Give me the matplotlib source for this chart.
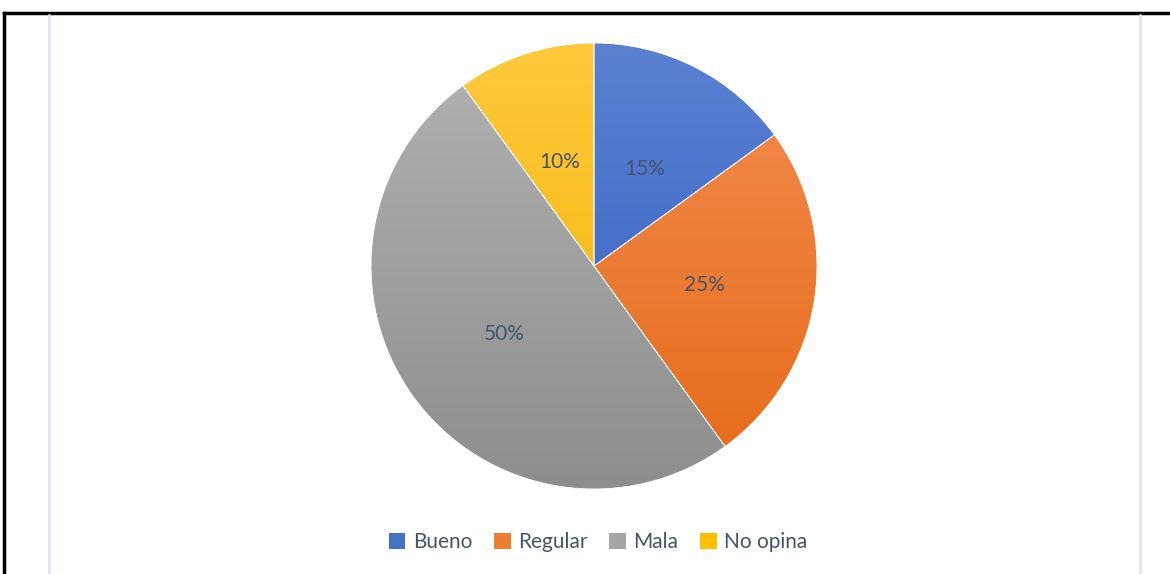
import numpy as np
import matplotlib
matplotlib.use("Agg")
import matplotlib.pyplot as plt
from matplotlib.colors import LinearSegmentedColormap
from matplotlib.patches import Rectangle
from matplotlib.lines import Line2D

categories = ["Bueno", "Regular", "Mala", "No opina"]
values = [15, 25, 50, 10]
labels = ["15%", "25%", "50%", "10%"]
top_colors = ["#5b80d2", "#f28d52", "#b2b2b2", "#ffc93c"]
bottom_colors = ["#2e5fbf", "#e66a17", "#8e8e8e", "#f0b400"]
legend_colors = ["#4472c4", "#ed7d31", "#a5a5a5", "#ffc000"]

plt.rcParams['font.family'] = ['Lato', 'DejaVu Sans']
text_color = "#44546a"

fig = plt.figure(figsize=(11.70, 5.74), dpi=100)
fig.patch.set_facecolor("white")

# frame lines
fig.add_artist(Line2D([4/1170, 4/1170], [0, 1 - 13/574], color="black", lw=2.5, transform=fig.transFigure))
fig.add_artist(Line2D([4/1170, 1], [1 - 13/574, 1 - 13/574], color="black", lw=2.5, transform=fig.transFigure))
for xp in [48.5, 1139.5]:
    fig.add_artist(Line2D([xp/1170, xp/1170], [0, 1 - 15/574], color="#e1e5eb", lw=1.8, transform=fig.transFigure))

cx, cy, r = 594, 308, 223
ax = fig.add_axes([(cx - r)/1170, (cy - r)/574, 2*r/1170, 2*r/574])
wedges, texts = ax.pie(values, labels=labels, startangle=90, counterclock=False,
                       labeldistance=0.5, radius=1.0,
                       wedgeprops=dict(edgecolor="white", linewidth=0.6),
                       textprops=dict(color=text_color, fontsize=15))
for t in texts:
    t.set_ha("center")
    t.set_va("center_baseline")
ax.set_xlim(-1.0, 1.0)
ax.set_ylim(-1.0, 1.0)
ax.set_aspect("equal")
ax.axis("off")

grad = np.linspace(0, 1, 256).reshape(-1, 1)
for w, tc, bc in zip(wedges, top_colors, bottom_colors):
    cmap = LinearSegmentedColormap.from_list("g", [tc, bc])
    w.set_facecolor("none")
    im = ax.imshow(grad, cmap=cmap, extent=[-1, 1, -1, 1], origin="upper",
                   aspect="auto", zorder=0.5)
    im.set_clip_path(w)
    w.set_zorder(1)
for t in texts:
    t.set_zorder(3)

handles = [Rectangle((0, 0), 1, 1, facecolor=c, edgecolor="none") for c in legend_colors]
leg = fig.legend(handles, categories, loc="center", bbox_to_anchor=(598/1170, 1 - 542/574),
                 ncol=4, frameon=False, fontsize=15, handlelength=0.8, handleheight=0.8,
                 handletextpad=0.35, columnspacing=1.05)
for t in leg.get_texts():
    t.set_color(text_color)

fig.savefig("out.png", dpi=100, facecolor="white")
